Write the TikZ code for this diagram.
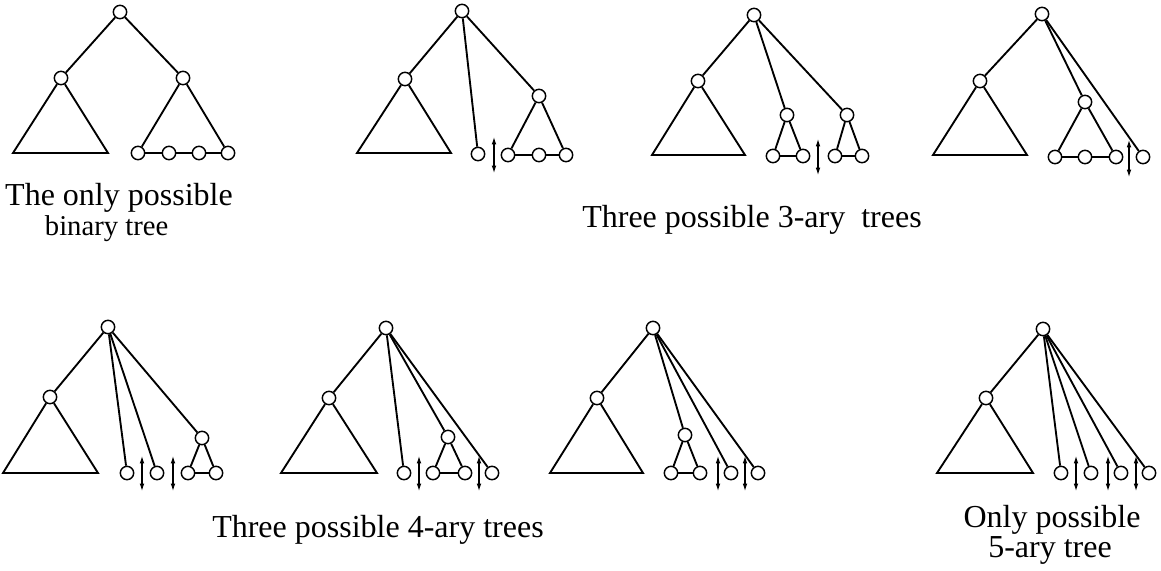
\documentclass[tikz,border=0pt]{standalone}
\usepackage{fontspec}
\setmainfont{Liberation Serif}
\usetikzlibrary{arrows.meta}
\begin{document}
\begin{tikzpicture}[x=0.75pt,y=-0.75pt,line width=1.4pt,
  vtx/.style={circle,draw,line width=1.1pt,inner sep=0pt,minimum size=10pt,fill=white},
  dblarrow/.style={line width=0.8pt,{Latex[length=5.5pt,width=3.5pt]}-{Latex[length=5.5pt,width=3.5pt]}},
  lbl/.style={font=\fontsize{24}{28}\selectfont,inner sep=0pt},
  lblsmall/.style={font=\fontsize{21.5}{26}\selectfont,inner sep=0pt},
  tri/.style={line join=miter}]
\useasboundingbox (0,0) rectangle (1161,571);
% ---------- Tree 1: binary ----------
\node[vtx] (r1) at (120,12) {};
\node[vtx] (l1) at (61,78) {};
\node[vtx] (m1) at (183,78) {};
\coordinate (l1a) at (13,153); \coordinate (l1b) at (108,153);
\node[vtx] (b1a) at (138,153) {};
\node[vtx] (b1b) at (169,153) {};
\node[vtx] (b1c) at (199,153) {};
\node[vtx] (b1d) at (228,153) {};
\draw (r1) -- (l1); \draw (r1) -- (m1);
\draw[tri] (l1) -- (l1a) -- (l1b) -- (l1);
\draw (m1) -- (b1a); \draw (m1) -- (b1d);
\draw (b1a) -- (b1b) -- (b1c) -- (b1d);
\node[lbl,anchor=base] (t1) at (119,205) {The only possible};
\node[lblsmall,anchor=base west] (t1b) at (44,235) {binary tree};
% ---------- Tree 2 ----------
\node[vtx] (r2) at (462,11) {};
\node[vtx] (l2) at (405,79) {};
\coordinate (l2a) at (357,153); \coordinate (l2b) at (451,153);
\node[vtx] (p2) at (478,154) {};
\node[vtx] (m2) at (539,96) {};
\node[vtx] (b2a) at (508,155) {};
\node[vtx] (b2b) at (539,155) {};
\node[vtx] (b2c) at (566,155) {};
\draw (r2) -- (l2); \draw (r2) -- (p2); \draw (r2) -- (m2);
\draw[tri] (l2) -- (l2a) -- (l2b) -- (l2);
\draw (m2) -- (b2a); \draw (m2) -- (b2c);
\draw (b2a) -- (b2b) -- (b2c);
\coordinate (s2t) at (494,137); \coordinate (s2b) at (494,173);
\draw[dblarrow] (s2t) -- (s2b);
% ---------- Tree 3 ----------
\node[vtx] (r3) at (754,15) {};
\node[vtx] (l3) at (698,81) {};
\coordinate (l3a) at (652,155); \coordinate (l3b) at (745,155);
\node[vtx] (m3) at (787,115) {};
\node[vtx] (b3a) at (773,156) {};
\node[vtx] (b3b) at (803,156) {};
\node[vtx] (n3) at (847,115) {};
\node[vtx] (c3a) at (835,156) {};
\node[vtx] (c3b) at (862,156) {};
\draw (r3) -- (l3); \draw (r3) -- (m3); \draw (r3) -- (n3);
\draw[tri] (l3) -- (l3a) -- (l3b) -- (l3);
\draw (m3) -- (b3a); \draw (m3) -- (b3b); \draw (b3a) -- (b3b);
\draw (n3) -- (c3a); \draw (n3) -- (c3b); \draw (c3a) -- (c3b);
\coordinate (s3t) at (818,139); \coordinate (s3b) at (818,175);
\draw[dblarrow] (s3t) -- (s3b);
% ---------- Tree 4 ----------
\node[vtx] (r4) at (1042,14) {};
\node[vtx] (l4) at (980,81) {};
\coordinate (l4a) at (933,155); \coordinate (l4b) at (1027,155);
\node[vtx] (m4) at (1085,102) {};
\node[vtx] (b4a) at (1055,157) {};
\node[vtx] (b4b) at (1085,157) {};
\node[vtx] (b4c) at (1116,157) {};
\node[vtx] (p4) at (1143,157) {};
\draw (r4) -- (l4); \draw (r4) -- (m4); \draw (r4) -- (p4);
\draw[tri] (l4) -- (l4a) -- (l4b) -- (l4);
\draw (m4) -- (b4a); \draw (m4) -- (b4c);
\draw (b4a) -- (b4b) -- (b4c);
\coordinate (s4t) at (1129,140); \coordinate (s4b) at (1129,177);
\draw[dblarrow] (s4t) -- (s4b);
\node[lbl,anchor=base] (t2) at (752,227) {Three possible 3-ary\ \ trees};
% ---------- Tree 5 ----------
\node[vtx] (r5) at (108,327) {};
\node[vtx] (l5) at (50,397) {};
\coordinate (l5a) at (3,473); \coordinate (l5b) at (98,473);
\node[vtx] (p5a) at (127,473) {};
\node[vtx] (p5b) at (157,473) {};
\node[vtx] (m5) at (202,438) {};
\node[vtx] (b5a) at (188,473) {};
\node[vtx] (b5b) at (216,473) {};
\draw (r5) -- (l5); \draw (r5) -- (p5a); \draw (r5) -- (p5b); \draw (r5) -- (m5);
\draw[tri] (l5) -- (l5a) -- (l5b) -- (l5);
\draw (m5) -- (b5a); \draw (m5) -- (b5b); \draw (b5a) -- (b5b);
\coordinate (s5at) at (142,456); \coordinate (s5ab) at (142,491);
\coordinate (s5bt) at (173,456); \coordinate (s5bb) at (173,491);
\draw[dblarrow] (s5at) -- (s5ab); \draw[dblarrow] (s5bt) -- (s5bb);
% ---------- Tree 6 ----------
\node[vtx] (r6) at (386,328) {};
\node[vtx] (l6) at (329,398) {};
\coordinate (l6a) at (281,473); \coordinate (l6b) at (377,473);
\node[vtx] (p6a) at (404,473) {};
\node[vtx] (m6) at (448,437) {};
\node[vtx] (b6a) at (433,473) {};
\node[vtx] (b6b) at (465,473) {};
\node[vtx] (p6b) at (492,473) {};
\draw (r6) -- (l6); \draw (r6) -- (p6a); \draw (r6) -- (m6); \draw (r6) -- (p6b);
\draw[tri] (l6) -- (l6a) -- (l6b) -- (l6);
\draw (m6) -- (b6a); \draw (m6) -- (b6b); \draw (b6a) -- (b6b);
\coordinate (s6at) at (419,456); \coordinate (s6ab) at (419,491);
\coordinate (s6bt) at (479,456); \coordinate (s6bb) at (479,491);
\draw[dblarrow] (s6at) -- (s6ab); \draw[dblarrow] (s6bt) -- (s6bb);
% ---------- Tree 7 ----------
\node[vtx] (r7) at (653,328) {};
\node[vtx] (l7) at (597,398) {};
\coordinate (l7a) at (550,473); \coordinate (l7b) at (643,473);
\node[vtx] (m7) at (685,435) {};
\node[vtx] (b7a) at (671,473) {};
\node[vtx] (b7b) at (700,473) {};
\node[vtx] (p7a) at (731,473) {};
\node[vtx] (p7b) at (758,473) {};
\draw (r7) -- (l7); \draw (r7) -- (m7); \draw (r7) -- (p7a); \draw (r7) -- (p7b);
\draw[tri] (l7) -- (l7a) -- (l7b) -- (l7);
\draw (m7) -- (b7a); \draw (m7) -- (b7b); \draw (b7a) -- (b7b);
\coordinate (s7at) at (718,456); \coordinate (s7ab) at (718,491);
\coordinate (s7bt) at (745,456); \coordinate (s7bb) at (745,491);
\draw[dblarrow] (s7at) -- (s7ab); \draw[dblarrow] (s7bt) -- (s7bb);
\node[lbl,anchor=base] (t3) at (378,537) {Three possible 4-ary trees};
% ---------- Tree 8 ----------
\node[vtx] (r8) at (1043,329) {};
\node[vtx] (l8) at (986,398) {};
\coordinate (l8a) at (937,473); \coordinate (l8b) at (1033,473);
\node[vtx] (p8a) at (1061,473) {};
\node[vtx] (p8b) at (1091,473) {};
\node[vtx] (p8c) at (1121,473) {};
\node[vtx] (p8d) at (1149,473) {};
\draw (r8) -- (l8); \draw (r8) -- (p8a); \draw (r8) -- (p8b); \draw (r8) -- (p8c); \draw (r8) -- (p8d);
\draw[tri] (l8) -- (l8a) -- (l8b) -- (l8);
\coordinate (s8at) at (1076,456); \coordinate (s8ab) at (1076,491);
\coordinate (s8bt) at (1108,456); \coordinate (s8bb) at (1108,491);
\coordinate (s8ct) at (1136,456); \coordinate (s8cb) at (1136,491);
\draw[dblarrow] (s8at) -- (s8ab); \draw[dblarrow] (s8bt) -- (s8bb); \draw[dblarrow] (s8ct) -- (s8cb);
\node[lbl,anchor=base] (t4) at (1052,527) {Only possible};
\node[lbl,anchor=base] (t4b) at (1050,557) {5-ary tree};
\end{tikzpicture}
\end{document}
